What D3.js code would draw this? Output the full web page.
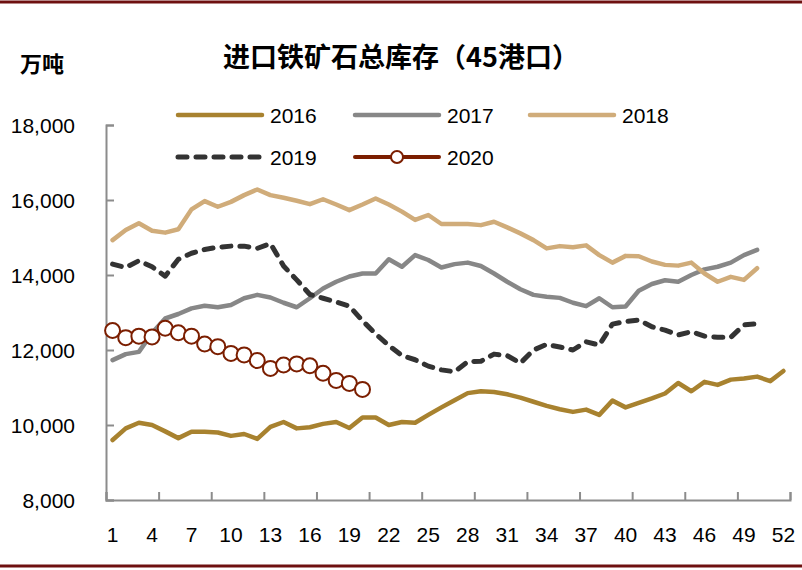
<!DOCTYPE html>
<html><head><meta charset="utf-8">
<script src="https://cdn.jsdelivr.net/npm/d3@7/dist/d3.min.js"></script>
<style>
html,body{margin:0;padding:0;background:#fff;}
svg{display:block;}
</style>
</head><body>
<svg id="c" width="802" height="570"></svg>
<script>
const weeks = [1,2,3,4,5,6,7,8,9,10,11,12,13,14,15,16,17,18,19,20,21,22,23,24,25,26,27,28,29,30,31,32,33,34,35,36,37,38,39,40,41,42,43,44,45,46,47,48,49,50,51,52];
const xTickLabels = [1,4,7,10,13,16,19,22,25,28,31,34,37,40,43,46,49,52];
const yTicks = [8000,10000,12000,14000,16000,18000];
const s2016 = [9600,9910,10060,10000,9830,9650,9820,9820,9800,9710,9760,9630,9950,10080,9910,9940,10030,10080,9920,10200,10200,10000,10080,10060,10270,10470,10660,10850,10900,10880,10820,10730,10620,10510,10420,10350,10410,10270,10650,10470,10590,10710,10840,11120,10900,11150,11070,11210,11240,11290,11170,11440];
const s2017 = [11730,11890,11950,12450,12840,12960,13110,13180,13140,13200,13380,13470,13400,13260,13140,13380,13640,13820,13960,14040,14040,14420,14220,14530,14400,14200,14290,14330,14240,14040,13820,13620,13470,13420,13390,13260,13170,13380,13140,13160,13580,13760,13860,13820,14000,14150,14220,14330,14530,14670];
const s2018 = [14930,15200,15380,15180,15130,15220,15750,15970,15820,15950,16130,16280,16130,16060,15980,15890,16020,15880,15730,15880,16040,15880,15690,15470,15600,15360,15360,15360,15330,15420,15270,15110,14930,14710,14770,14740,14790,14530,14330,14510,14500,14360,14270,14250,14330,14040,13820,13950,13870,14180];
const s2019 = [14290,14200,14380,14220,13970,14420,14580,14680,14740,14770,14770,14710,14840,14240,13870,13480,13380,13280,13170,12780,12430,12120,11850,11740,11570,11470,11420,11690,11700,11890,11850,11650,12000,12150,12080,12000,12220,12130,12690,12760,12800,12620,12530,12400,12490,12370,12340,12340,12670,12700];
const s2020 = [12520,12330,12370,12350,12580,12460,12370,12160,12090,11910,11870,11720,11510,11600,11630,11580,11380,11190,11110,10950];
const seriesNames = ["2016","2017","2018","2019","2020"];

const svg = d3.select("#c");
const font = "'Liberation Sans', Arial, sans-serif";
const cjk = "'Noto Sans CJK SC', sans-serif";
const maroon = "#6e1010";

// frame lines
svg.append("line").attr("x1",0).attr("x2",802).attr("y1",2).attr("y2",2).attr("stroke",maroon).attr("stroke-width",3);
svg.append("line").attr("x1",0).attr("x2",802).attr("y1",566).attr("y2",566).attr("stroke",maroon).attr("stroke-width",3);

const x = d3.scaleLinear().domain([0.5,52.5]).range([106,790]);
const y = d3.scaleLinear().domain([8000,18000]).range([500,125]);

// title
svg.append("text").attr("x",401).attr("y",55).attr("text-anchor","middle").attr("dominant-baseline","central")
  .attr("font-family",cjk).attr("font-weight","bold").attr("font-size",27).attr("fill","#000")
  .text("进口铁矿石总库存（45港口）");
svg.append("text").attr("x",20).attr("y",62).attr("dominant-baseline","central")
  .attr("font-family",cjk).attr("font-weight","bold").attr("font-size",22).attr("fill","#000")
  .text("万吨");

// y axis
const gy = svg.append("g").attr("transform","translate(106,0)")
  .call(d3.axisRight(y).tickValues(yTicks).tickSize(8).tickFormat(""));
gy.select(".domain").attr("stroke","#8c8c8c").attr("stroke-width",2);
gy.selectAll(".tick line").attr("stroke","#8c8c8c").attr("stroke-width",2);
svg.append("g").selectAll("text").data(yTicks).join("text")
  .attr("x",75).attr("y",d=>y(d)).attr("text-anchor","end").attr("dominant-baseline","central")
  .attr("font-family",font).attr("font-size",21).attr("fill","#000")
  .text(d=>d3.format(",")(d));

// x axis
const xTickPos = [0.5,4.5,8.5,12.5,16.5,20.5,24.5,28.5,32.5,36.5,40.5,44.5,48.5,52.5];
const gx = svg.append("g").attr("transform","translate(0,500)")
  .call(d3.axisTop(x).tickValues(xTickPos).tickSize(8).tickFormat(""));
gx.select(".domain").attr("stroke","#8c8c8c").attr("stroke-width",2);
gx.selectAll(".tick line").attr("stroke","#8c8c8c").attr("stroke-width",2);
svg.append("g").selectAll("text").data(xTickLabels).join("text")
  .attr("x",d=>x(d)).attr("y",534).attr("text-anchor","middle").attr("dominant-baseline","central")
  .attr("font-family",font).attr("font-size",21).attr("fill","#000")
  .text(d=>d);

const line = d3.line().x((d,i)=>x(weeks[i])).y(d=>y(d));
const styles = {
  "2016":{c:"#a8822f",w:4.5,dash:null},
  "2017":{c:"#878787",w:4.5,dash:null},
  "2018":{c:"#d0ac7a",w:4.5,dash:null},
  "2019":{c:"#333333",w:5,dash:"9 9"},
  "2020":{c:"#7b1e00",w:3,dash:null}
};
const data = {"2016":s2016,"2017":s2017,"2018":s2018,"2019":s2019,"2020":s2020};
seriesNames.forEach(n=>{
  const st = styles[n];
  const p = svg.append("path").datum(data[n]).attr("d",line).attr("fill","none")
    .attr("stroke",st.c).attr("stroke-width",st.w).attr("stroke-linejoin","round").attr("stroke-linecap","round");
  if (st.dash) p.attr("stroke-dasharray",st.dash);
});
svg.append("g").selectAll("circle").data(s2020).join("circle")
  .attr("cx",(d,i)=>x(weeks[i])).attr("cy",d=>y(d)).attr("r",7.5)
  .attr("fill","#fff").attr("stroke","#7b1e00").attr("stroke-width",2);

// legend
const leg = [
  {n:"2016",x:178,y:115},{n:"2017",x:355,y:115},{n:"2018",x:530,y:115},
  {n:"2019",x:178,y:157},{n:"2020",x:355,y:157}
];
leg.forEach(l=>{
  const st = styles[l.n];
  const ln = svg.append("line").attr("x1",l.x).attr("x2",l.x+84).attr("y1",l.y).attr("y2",l.y)
    .attr("stroke",st.c).attr("stroke-width",l.n==="2020"?4:st.w).attr("stroke-linecap","round");
  if (st.dash) ln.attr("stroke-dasharray",st.dash);
  if (l.n==="2020") {
    svg.append("circle").attr("cx",l.x+42).attr("cy",l.y).attr("r",6)
      .attr("fill","#fff").attr("stroke",st.c).attr("stroke-width",2);
  }
  svg.append("text").attr("x",l.x+92).attr("y",l.y).attr("dominant-baseline","central")
    .attr("font-family",font).attr("font-size",21).attr("fill","#000").text(l.n);
});
</script>
</body></html>
